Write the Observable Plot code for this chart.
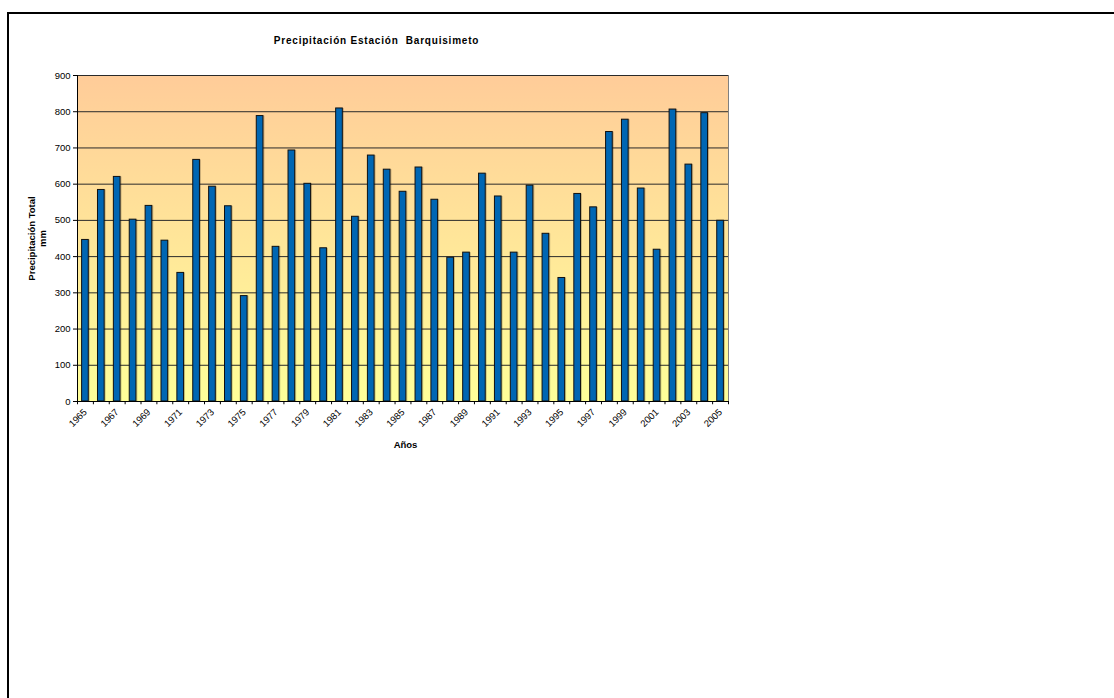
<!DOCTYPE html>
<html>
<head>
<meta charset="utf-8">
<script src="https://cdn.jsdelivr.net/npm/d3@7"></script>
<script src="https://cdn.jsdelivr.net/npm/@observablehq/plot@0.6"></script>
<style>
  html, body { margin: 0; padding: 0; background: #fff; overflow: hidden; }
  #wrap { position: relative; width: 1114px; height: 698px; }
  #border { position: absolute; left: 7px; top: 12px; width: 1200px; height: 800px;
            border-top: 2px solid #000; border-left: 2px solid #000; pointer-events: none; }
  svg text { white-space: pre; }
</style>
</head>
<body>
<div id="wrap"><div id="border"></div></div>
<script>
// ---- data ----
const years = [1965,1966,1967,1968,1969,1970,1971,1972,1973,1974,1975,1976,1977,1978,1979,1980,
  1981,1982,1983,1984,1985,1986,1987,1988,1989,1990,1991,1992,1993,1994,1995,1996,1997,1998,
  1999,2000,2001,2002,2003,2004,2005];
const precip = [446,584,620,502,540,444,355,667,593,539,291,788,427,693,601,423,
  809,510,679,640,579,646,557,397,411,629,566,411,596,463,341,573,536,744,
  778,588,419,806,654,796,499];
const yTicks = [0,100,200,300,400,500,600,700,800,900];
const xTickLabels = years.filter((d, i) => i % 2 === 0);
const titleText = "Precipitación Estación  Barquisimeto";
const yLabel = "Precipitación Total\nmm";
const xLabel = "Años";

const data = years.map((y, i) => ({year: y, value: precip[i]}));

// ---- layout ----
const W = 1114, H = 698;
const mL = 77, mT = 75, mR = W - 728, mB = H - 401;
const step = (W - mL - mR) / years.length;

const chart = Plot.plot({
  width: W, height: H,
  marginLeft: mL, marginRight: mR, marginTop: mT, marginBottom: mB,
  style: {fontFamily: "'Liberation Sans', Arial, sans-serif", fontSize: "9.5px", color: "#000", background: "transparent"},
  x: {type: "band", domain: years, paddingInner: 0.58, paddingOuter: 0.29, axis: null},
  y: {domain: [0, 900], axis: null},
  marks: [
    Plot.frame({fill: "url(#bgGrad)", stroke: "#808080"}),
    Plot.ruleY(yTicks.filter(d => d > 0), {stroke: "#2a2a2a", strokeWidth: 1}),
    Plot.barY(data, {x: "year", y: "value", fill: "#000", fillOpacity: 0.22, dx: 1.5}),
    Plot.barY(data, {x: "year", y: "value", fill: "#0066B3", stroke: "#111", strokeWidth: 1}),
    Plot.ruleY([0], {stroke: "#000"}),
    Plot.ruleX(years, {x: d => d, dx: step / 2, y1: -9, y2: 0, stroke: "#000"}),
    Plot.ruleX([years[0]], {x: d => d, dx: -step / 2, y1: -9, y2: 900, stroke: "#000"}),
    Plot.axisY({ticks: yTicks, tickSize: 4, tickPadding: 3, label: null}),
    Plot.axisX({ticks: xTickLabels, tickFormat: d => String(d), tickSize: 0, tickRotate: -45, tickPadding: 9,
      fontSize: 9.5, label: null}),
    Plot.text([titleText], {text: d => d, frameAnchor: "top", dx: -26.5, dy: -32, lineAnchor: "bottom",
      fontWeight: "bold", fontSize: 10}),
    Plot.text([yLabel], {text: d => d, frameAnchor: "left", textAnchor: "middle", dx: -40.5, rotate: -90,
      lineAnchor: "middle", lineHeight: 1.2, fontWeight: "bold", fontSize: 9.5}),
    Plot.text([xLabel], {text: d => d, frameAnchor: "bottom", dx: 2.5, dy: 46, lineAnchor: "bottom",
      fontWeight: "bold", fontSize: 9.5})
  ]
});

// gradient background for the plot area
const defs = d3.select(chart).insert("defs", ":first-child");
const grad = defs.append("linearGradient").attr("id", "bgGrad")
  .attr("x1", 0).attr("y1", 0).attr("x2", 0).attr("y2", 1);
grad.append("stop").attr("offset", "0%").attr("stop-color", "#FFCC99");
grad.append("stop").attr("offset", "100%").attr("stop-color", "#FFFF99");

d3.select(chart).selectAll("text").filter(function() { return this.textContent === titleText; })
  .attr("letter-spacing", "0.8px");

document.getElementById("wrap").prepend(chart);
</script>
</body>
</html>
